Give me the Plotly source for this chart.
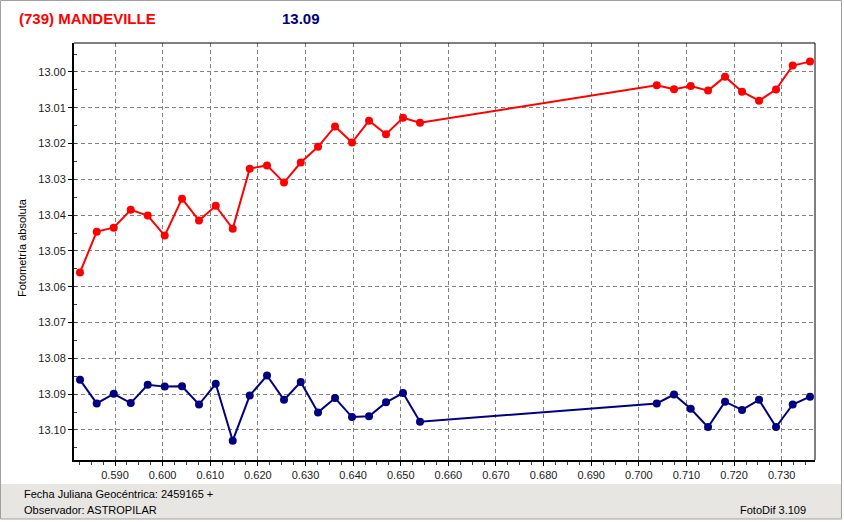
import plotly.graph_objects as go

# ---- data ----
red_jd = [0.58265, 0.58616, 0.58973, 0.59330, 0.59687, 0.60044, 0.60407, 0.60764,
          0.61115, 0.61472, 0.61829, 0.62192, 0.62549, 0.62900, 0.63263, 0.63620,
          0.63977, 0.64334, 0.64691, 0.65048, 0.65405,
          0.70376, 0.70739, 0.71089, 0.71453, 0.71810, 0.72167, 0.72524, 0.72881,
          0.73231, 0.73594]
red_mag = [13.0560, 13.0446, 13.0435, 13.0385, 13.0401, 13.0457, 13.0354, 13.0415,
           13.0374, 13.0438, 13.0270, 13.0261, 13.0309, 13.0253, 13.0209, 13.0152,
           13.0197, 13.0136, 13.0174, 13.0128, 13.0142,
           13.0037, 13.0048, 13.0039, 13.0052, 13.0013, 13.0055, 13.0080, 13.0049,
           12.9982, 12.9971]

blue_jd = red_jd
blue_mag = [13.0860, 13.0926, 13.0899, 13.0925, 13.0874, 13.0879, 13.0878, 13.0929,
            13.0871, 13.1030, 13.0904, 13.0848, 13.0916, 13.0866, 13.0951, 13.0911,
            13.0964, 13.0962, 13.0923, 13.0897, 13.0977,
            13.0926, 13.0901, 13.0941, 13.0992, 13.0921, 13.0944, 13.0916, 13.0992,
            13.0929, 13.0907]

x_ticks = [0.590, 0.600, 0.610, 0.620, 0.630, 0.640, 0.650, 0.660, 0.670, 0.680,
           0.690, 0.700, 0.710, 0.720, 0.730]
y_ticks = [13.00, 13.01, 13.02, 13.03, 13.04, 13.05, 13.06, 13.07, 13.08, 13.09, 13.10]

title_left = "(739) MANDEVILLE"
title_right = "13.09"
y_title = "Fotometría absoluta"
foot_1 = "Fecha Juliana Geocéntrica: 2459165 +"
foot_2 = "Observador: ASTROPILAR"
foot_3 = "FotoDif 3.109"

# ---- layout geometry (pixels) ----
W, H = 844, 522
L, R, T, B = 74, 815, 43, 460


def px(x):
    return (x - L) / (R - L)


def py(y):
    return 1 - (y - T) / (B - T)


FONT = "Liberation Sans, Arial, sans-serif"

fig = go.Figure()
fig.add_trace(go.Scatter(x=red_jd, y=red_mag, mode="lines+markers",
                         line=dict(color="#ff0000", width=2),
                         marker=dict(color="#ff0000", size=8, symbol="circle"),
                         hoverinfo="x+y", showlegend=False))
fig.add_trace(go.Scatter(x=blue_jd, y=blue_mag, mode="lines+markers",
                         line=dict(color="#000080", width=2),
                         marker=dict(color="#000080", size=8, symbol="circle"),
                         hoverinfo="x+y", showlegend=False))

grid = dict(showgrid=True, gridcolor="#808080", gridwidth=1, griddash="4px,3px")

fig.update_xaxes(range=[0.58139, 0.73699], tickvals=x_ticks, tickformat=".3f",
                 ticks="outside", ticklen=4, tickcolor="#000000",
                 showline=True, linecolor="#000000", linewidth=2,
                 zeroline=False,
                 minor=dict(dtick=0.0025, tick0=0.58, ticks="outside", ticklen=3,
                            tickcolor="#404040", showgrid=False),
                 tickfont=dict(family=FONT, size=11, color="#1a1a1a"),
                 **grid)
fig.update_yaxes(range=[13.1084, 12.9919], tickvals=y_ticks, tickformat=".2f",
                 ticks="outside", ticklen=4, tickcolor="#000000",
                 showline=True, linecolor="#000000", linewidth=2,
                 zeroline=False,
                 minor=dict(dtick=0.005, tick0=13.0, ticks="inside", ticklen=3,
                            tickcolor="#404040", showgrid=False),
                 tickfont=dict(family=FONT, size=11, color="#1a1a1a"),
                 **grid)

shapes = [
    # top and right frame lines of the plot area
    dict(type="line", xref="paper", yref="paper", x0=0, x1=1, y0=1, y1=1,
         line=dict(color="#000000", width=1)),
    dict(type="line", xref="paper", yref="paper", x0=1, x1=1, y0=0, y1=1,
         line=dict(color="#000000", width=1)),
    # bottom info panel
    dict(type="rect", xref="paper", yref="paper", x0=px(1), x1=px(841),
         y0=py(519), y1=py(484), fillcolor="#e8e6e3", line=dict(width=0),
         layer="below"),
    # window border
    dict(type="rect", xref="paper", yref="paper", x0=px(0.5), x1=px(841.5),
         y0=py(519), y1=py(0.5), fillcolor="rgba(0,0,0,0)",
         line=dict(color="#a0a0a0", width=1)),
]

annotations = [
    dict(text=f"<b>{title_left}</b>", x=px(17), y=py(19), xanchor="left", yanchor="middle",
         font=dict(family=FONT, size=15, color="#ff0000")),
    dict(text=f"<b>{title_right}</b>", x=px(280), y=py(19), xanchor="left", yanchor="middle",
         font=dict(family=FONT, size=15, color="#000080")),
    dict(text=y_title, x=px(22), y=py(248), xanchor="center", yanchor="middle",
         textangle=-90, font=dict(family=FONT, size=11, color="#000000")),
    dict(text=foot_1, x=px(22), y=py(494), xanchor="left", yanchor="middle",
         font=dict(family=FONT, size=11, color="#000000")),
    dict(text=foot_2, x=px(22), y=py(510), xanchor="left", yanchor="middle",
         font=dict(family=FONT, size=11, color="#000000")),
    dict(text=foot_3, x=px(808), y=py(510), xanchor="right", yanchor="middle",
         font=dict(family=FONT, size=11, color="#000000")),
]
for a in annotations:
    a.update(xref="paper", yref="paper", showarrow=False)

fig.update_layout(width=W, height=H,
                  margin=dict(l=L, r=W - R, t=T, b=H - B, pad=0),
                  paper_bgcolor="#ffffff", plot_bgcolor="#ffffff",
                  shapes=shapes, annotations=annotations,
                  showlegend=False, font=dict(family=FONT))

fig.write_html("out.html",
               config={"displayModeBar": False},
               post_script="document.body.style.margin='0';"
                           "document.body.style.overflow='hidden';")
